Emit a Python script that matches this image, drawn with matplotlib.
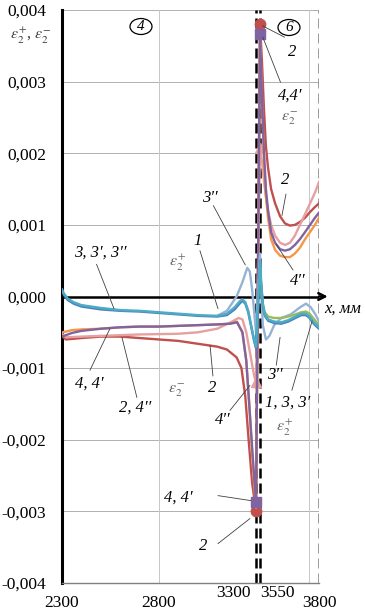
import numpy as np
import matplotlib
matplotlib.use('Agg')
import matplotlib.pyplot as plt
import matplotlib.transforms as mtransforms
from matplotlib.patches import Ellipse

plt.rcParams['font.family'] = ['Liberation Serif', 'DejaVu Serif']
plt.rcParams['mathtext.fontset'] = 'stix'

# ---------------- data (x in mm, strain) ----------------
# zone 4 : 2300..3300, gap 3300..3550 (compressed), zone 6 : 3550..3800
x_red = [2300, 2320, 2400, 2500, 2600, 2700, 2800, 2900, 3000, 3100, 3150, 3200, 3225, 3245, 3262, 3280, 3300,
         3550, 3558, 3567, 3575, 3584, 3597, 3614, 3635, 3656, 3677, 3698, 3719, 3741, 3762, 3783, 3800]
y_red = [-0.00055, -0.0006, -0.00058, -0.00056, -0.00056, -0.00058, -0.0006, -0.00062, -0.00066, -0.0007, -0.00074,
         -0.00085, -0.001, -0.0014, -0.002, -0.0026, -0.003,
         0.0038, 0.0033, 0.0026, 0.0021, 0.0018, 0.0015, 0.0013, 0.00112, 0.00102, 0.00099, 0.001, 0.00104,
         0.0011, 0.00118, 0.00125, 0.0013]

x_orange = [2300, 2320, 2350, 2400, 2500, 2600, 2700, 2800, 2900, 3000, 3100, 3166, 3202, 3230, 3250, 3265, 3280,
            3290, 3300,
            3550, 3558, 3567, 3575, 3584, 3597, 3614, 3635, 3656, 3677, 3698, 3719, 3741, 3762, 3783, 3800]
y_orange = [-0.0005, -0.00049, -0.00047, -0.00046, -0.00045, -0.00043, -0.00042, -0.00042, -0.00041, -0.0004,
            -0.00039, -0.00038, -0.00035, -0.0005, -0.0009, -0.0015, -0.0022, -0.0026, -0.00295,
            0.0037, 0.0028, 0.0019, 0.0014, 0.0011, 0.0008, 0.00065, 0.00057, 0.00055, 0.00055, 0.0006,
            0.00068, 0.0008, 0.0009, 0.001, 0.0011]

x_purple = [2300, 2320, 2350, 2400, 2500, 2600, 2700, 2800, 2900, 3000, 3100, 3166, 3202, 3230, 3250, 3265, 3280,
            3290, 3300,
            3550, 3558, 3567, 3575, 3584, 3597, 3614, 3635, 3656, 3677, 3698, 3719, 3741, 3762, 3783, 3800]
y_purple = [-0.00056, -0.00054, -0.00051, -0.00048, -0.00045, -0.00043, -0.00042, -0.00042, -0.00041, -0.0004,
            -0.00039, -0.00038, -0.00036, -0.0005, -0.0009, -0.0015, -0.0021, -0.0025, -0.00287,
            0.00366, 0.0028, 0.002, 0.0015, 0.0012, 0.0009, 0.00075, 0.00066, 0.00064, 0.00066, 0.00072,
            0.0008, 0.0009, 0.001, 0.0011, 0.00117]

x_pink = [2300, 2320, 2400, 2500, 2700, 2900, 3000, 3100, 3170, 3210, 3230, 3250, 3270, 3290, 3300,
          3550, 3558, 3567, 3575, 3584, 3597, 3614, 3635, 3656, 3677, 3698, 3719, 3741, 3762, 3783, 3800]
y_pink = [-0.00052, -0.00057, -0.00056, -0.00055, -0.00053, -0.00052, -0.0005, -0.00045, -0.00036, -0.0003,
          -0.00032, -0.0005, -0.0008, -0.0011, -0.0012,
          0.00207, 0.0019, 0.0016, 0.0014, 0.0012, 0.001, 0.00085, 0.00075, 0.00072, 0.00075, 0.00085,
          0.001, 0.00115, 0.0013, 0.00145, 0.0016]

x_teal = [2300, 2310, 2330, 2360, 2400, 2500, 2600, 2700, 2800, 2900, 3000, 3100, 3150, 3190, 3215, 3230, 3245,
          3260, 3275, 3290, 3300,
          3550, 3555, 3562, 3570, 3585, 3610, 3640, 3670, 3700, 3725, 3745, 3760, 3775, 3790, 3800]
y_teal = [0.0001, 0.00004, -0.00003, -0.00008, -0.00012, -0.00016, -0.00019, -0.0002, -0.00022, -0.00024,
          -0.00026, -0.00027, -0.00024, -0.00015, -0.00007, -0.00004, -0.00008, -0.0002, -0.0004, -0.0006, -0.0007,
          0.0005, 0.0002, -0.0001, -0.00025, -0.00032, -0.00035, -0.00036, -0.00033, -0.00028, -0.00024,
          -0.00024, -0.00028, -0.00035, -0.0004, -0.00043]

x_blue = x_teal
y_blue = [0.00008, 0.00002, -0.00005, -0.0001, -0.00014, -0.00018, -0.0002, -0.00021, -0.00023, -0.00025,
          -0.00027, -0.00028, -0.00026, -0.00018, -0.0001, -0.00006, -0.0001, -0.00022, -0.00042, -0.00062, -0.00072,
          0.0004, 0.00015, -0.00013, -0.00027, -0.00034, -0.00037, -0.00038, -0.00035, -0.0003, -0.00026,
          -0.00026, -0.0003, -0.00037, -0.00042, -0.00045]

x_green = [3550, 3555, 3562, 3570, 3585, 3610, 3640, 3670, 3700, 3725, 3745, 3760, 3775, 3790, 3800]
y_green = [0.0004, 0.00015, -0.0001, -0.00022, -0.00028, -0.0003, -0.0003, -0.00028, -0.00025, -0.00022,
           -0.00021, -0.00024, -0.0003, -0.00036, -0.0004]

x_lblue = [3100, 3150, 3200, 3230, 3255, 3268, 3280, 3290, 3300,
           3550, 3556, 3562, 3575, 3590, 3610, 3640, 3680, 3720, 3745, 3765, 3785, 3800]
y_lblue = [-0.00027, -0.0002, 0.0, 0.0002, 0.0004, 0.00035, 0.0001, -0.0002, -0.0005,
           0.0006, 0.0, -0.0004, -0.0006, -0.00055, -0.0004, -0.0003, -0.00025, -0.00015, -0.0001,
           -0.00015, -0.00025, -0.00035]

y_ticks = [-0.004, -0.003, -0.002, -0.001, 0.0, 0.001, 0.002, 0.003, 0.004]
y_ticklabels = ['-0,004', '-0,003', '-0,002', '-0,001', '0,000', '0,001', '0,002', '0,003', '0,004']
x_ticks = [2300, 2800, 3300, 3550, 3800]
x_ticklabels = ['2300', '2800', '3300', '3550', '3800']

# ---------------- piecewise x scale ----------------
BRK_MM = np.array([2300.0, 3300.0, 3550.0, 3800.0])
BRK_U = np.array([0.0, 194.0, 198.0, 257.0])


def fwd(x):
    x = np.asarray(x, float)
    y = np.interp(x, BRK_MM, BRK_U)
    y = np.where(x < BRK_MM[0], BRK_U[0] + (x - BRK_MM[0]) * 0.194, y)
    y = np.where(x > BRK_MM[-1], BRK_U[-1] + (x - BRK_MM[-1]) * 0.236, y)
    return y


def inv(u):
    u = np.asarray(u, float)
    x = np.interp(u, BRK_U, BRK_MM)
    x = np.where(u < BRK_U[0], BRK_MM[0] + (u - BRK_U[0]) / 0.194, x)
    x = np.where(u > BRK_U[-1], BRK_MM[-1] + (u - BRK_U[-1]) / 0.236, x)
    return x


fig = plt.figure(figsize=(3.65, 6.13), dpi=100)
W, H = 365, 613
ax = fig.add_axes([62 / W, 1 - 583 / H, (319 - 62) / W, (583 - 10) / H])
ax.set_xscale('function', functions=(fwd, inv))
ax.set_xlim(2300, 3800)
ax.set_ylim(-0.004, 0.004)

# grid
for yv in y_ticks:
    ax.axhline(yv, color='#b0b0b0', lw=0.7, zorder=0)
for xv in [2800, 3758]:
    ax.axvline(xv, color='#c8c8c8', lw=0.7, zorder=0)

# zone boundary lines
ax.axvline(3300, color='black', lw=1.8, dashes=(4, 2), zorder=1)
ax.axvline(3550, color='black', lw=1.8, dashes=(4, 2), zorder=1)
ax.axvline(3800, color='#7f7f7f', lw=1.8, dashes=(4, 2), zorder=1)

lw = 1.7
c_red = '#c0504d'
c_orange = '#f79646'
c_purple = '#8064a2'
c_pink = '#e6a0a0'
c_teal = '#4bacc6'
c_blue = '#4f81bd'
c_green = '#9bbb59'
c_lblue = '#95b3d7'


def ends(xs):
    return [xs.index(3300), xs.index(3550)]


ax.plot(x_red, y_red, color=c_red, lw=lw, zorder=3, marker='o', ms=7.5, markevery=ends(x_red))
ax.plot(x_pink, y_pink, color=c_pink, lw=lw, zorder=3.2, marker='^', ms=7.5, markevery=ends(x_pink))
ax.plot(x_purple, y_purple, color=c_purple, lw=lw, zorder=3.4, marker='s', ms=6.5, markevery=ends(x_purple))
ax.plot(x_orange, y_orange, color=c_orange, lw=lw, zorder=3.3)
ax.plot(x_lblue, y_lblue, color=c_lblue, lw=lw, zorder=3.5)
ax.plot(x_green, y_green, color=c_green, lw=lw, zorder=3.6)
ax.plot(x_blue, y_blue, color=c_blue, lw=lw, zorder=3.7)
ax.plot(x_teal, y_teal, color=c_teal, lw=lw, zorder=3.8)

# zero axis with arrow
ax.axhline(0, color='black', lw=1.8, zorder=2)
bt = mtransforms.blended_transform_factory(ax.transAxes, ax.transData)
ax.annotate('', xy=(1.045, 0), xycoords=bt, xytext=(0.99, 0), textcoords=bt,
            arrowprops=dict(arrowstyle='->', lw=1.8, color='black', mutation_scale=12), zorder=5)
ax.text(1.02, -0.00017, 'x, мм', transform=bt, fontsize=12, style='italic', ha='left', va='center',
        clip_on=False)

# spines
for s in ['top', 'right']:
    ax.spines[s].set_visible(False)
ax.spines['left'].set_linewidth(2.2)
ax.spines['left'].set_color('black')
ax.spines['bottom'].set_color('#808080')
ax.spines['bottom'].set_linewidth(1.0)

ax.set_yticks(y_ticks)
ax.set_yticklabels(y_ticklabels)
ax.set_xticks(x_ticks)
ax.set_xticklabels(x_ticklabels)
ax.minorticks_off()
ax.tick_params(axis='both', length=0, labelsize=12.5)
ax.tick_params(axis='y', pad=11.5)
ax.tick_params(axis='x', pad=8.5)
offs = [(0, 0), (0, 0), (-23, 10), (17, 10), (0, 0)]
for lbl, (dx, dy) in zip(ax.get_xticklabels(), offs):
    lbl.set_transform(lbl.get_transform() + mtransforms.Affine2D().translate(dx, dy))

# y label (top-left)
ax.text(-0.122, 0.955, r'$\varepsilon_2^{+}$, $\varepsilon_2^{-}$', transform=ax.transAxes, fontsize=11.5,
        color='#404040', ha='center', va='center')

# circled zone numbers
for cx, cy, t in [(141, 26.5, '4'), (289, 27.5, '6')]:
    fig.add_artist(Ellipse((cx / W, 1 - cy / H), 22 / W, 16 / H, transform=fig.transFigure,
                           fc='white', ec='black', lw=0.9, zorder=6))
    fig.text(cx / W, 1 - cy / H, t, fontsize=11, style='italic', ha='center', va='center', zorder=7)

ann_kw = dict(fontsize=12, style='italic', ha='center', va='center', zorder=6)
lead = dict(arrowstyle='-', lw=0.6, color='#404040', shrinkA=0, shrinkB=0)
eps_kw = dict(fontsize=11.5, color='#666666', ha='center', va='center', zorder=6)

# labels with leader lines: (text, text_pos, leader_start, leader_end)
labels = [
    ('2', (3686, 0.00342), (3654, 0.00362), (3560, 0.00378)),
    ('4,4′', (3677, 0.00281), (3637, 0.00299), (3562, 0.00362)),
    ('2', (3656, 0.00162), (3660, 0.00143), (3643, 0.00113)),
    ('4′′', (3711, 0.00021), (3690, 0.00037), (3618, 0.00073)),
    ('3′′', (3063, 0.00138), (3080, 0.00127), (3245, 0.00044)),
    ('1', (3001, 0.00078), (3011, 0.00064), (3104, -0.00017)),
    ('3, 3′, 3′′', (2496, 0.00061), (2478, 0.00045), (2568, -0.00017)),
    ('4, 4′', (2439, -0.00122), (2444, -0.00103), (2547, -0.00045)),
    ('2, 4′′', (2676, -0.00155), (2686, -0.00141), (2609, -0.00057)),
    ('2', (3073, -0.00128), (3078, -0.00111), (3063, -0.00068)),
    ('4′′', (3130, -0.00173), (3166, -0.00159), (3269, -0.00124)),
    ('3′′', (3614, -0.0011), (3619, -0.00096), (3635, -0.00057)),
    ('1, 3, 3′', (3669, -0.00148), (3685, -0.00131), (3771, -0.00034)),
    ('4, 4′', (2898, -0.00281), (3104, -0.00278), (3274, -0.00285)),
    ('2', (3027, -0.00348), (3104, -0.00345), (3269, -0.0031)),
]
for t, tp, ls, le in labels:
    ax.text(tp[0], tp[1], t, **ann_kw)
    ax.annotate('', xy=le, xytext=ls, arrowprops=lead, zorder=6)

for xm, yv, t in [(3677, 0.00249, r'$\varepsilon_2^{-}$'), (2898, 0.00047, r'$\varepsilon_2^{+}$'),
                  (2888, -0.00131, r'$\varepsilon_2^{-}$'), (3656, -0.00184, r'$\varepsilon_2^{+}$')]:
    ax.text(xm, yv, t, **eps_kw)

fig.savefig('out.png', dpi=100)
